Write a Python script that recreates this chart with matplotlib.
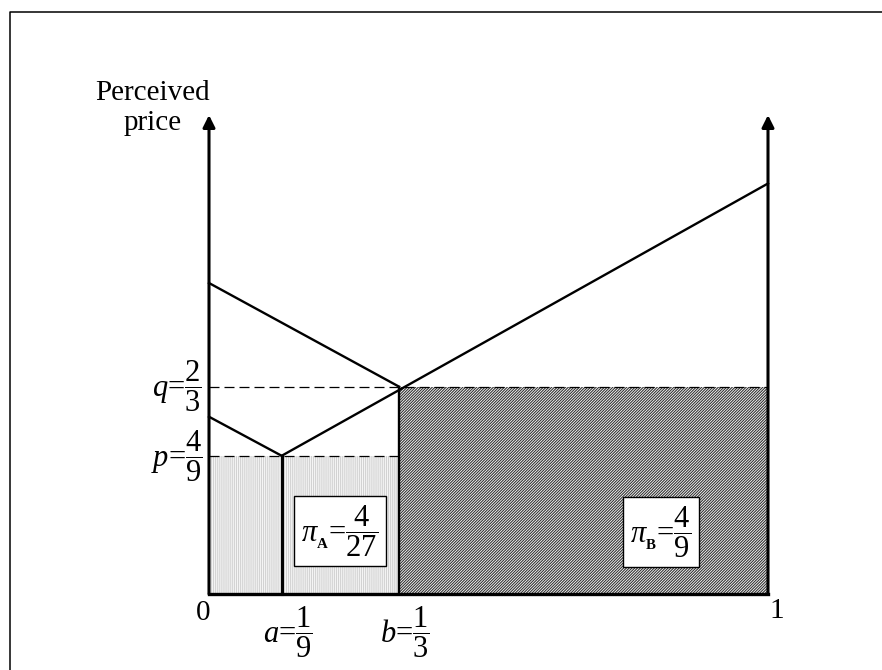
import matplotlib
matplotlib.use('Agg')
import matplotlib.pyplot as plt
from matplotlib.lines import Line2D
from matplotlib.patches import Rectangle

plt.rcParams['font.family'] = ['Liberation Serif', 'DejaVu Serif']
plt.rcParams['mathtext.fontset'] = 'custom'
plt.rcParams['mathtext.rm'] = 'Liberation Serif'
plt.rcParams['mathtext.it'] = 'Liberation Serif:italic'
plt.rcParams['mathtext.bf'] = 'Liberation Serif:bold'
plt.rcParams['hatch.linewidth'] = 0.8

# values
a_pos = 0.13          # kink of the lower curve (labelled a = 1/9)
b_pos = 0.34          # kink of the upper curve (labelled b = 1/3)
p_val = 4 / 9
q_val = 2 / 3
upper_left = 1.0      # upper curve at x = 0
lower_left = 0.57     # lower curve at x = 0
right_end = 1.32      # rising line at x = 1
axis_top = 1.54

x_labels = [(a_pos, r'$a$=$\dfrac{1}{9}$'), (b_pos, r'$b$=$\dfrac{1}{3}$')]
y_labels = [(q_val, r'$q$=$\dfrac{2}{3}$'), (p_val, r'$p$=$\dfrac{4}{9}$')]
profit_A = r'$\pi_{\mathbf{_A}}$=$\dfrac{4}{27}$'
profit_B = r'$\pi_{\mathbf{_B}}$=$\dfrac{4}{9}$'

W, H = 882, 670
fig = plt.figure(figsize=(W / 100, H / 100), dpi=100)
ax = fig.add_axes([0, 0, 1, 1])
ax.axis('off')

# pixel layout: x=0 at 209px, x=1 at 768px, y=0 at 594px, 311px per unit
x0, xs = 209, 559
y0, ys = 594, 311
ax.set_xlim(-x0 / xs, (W - x0) / xs)
ax.set_ylim(-(H - y0) / ys, y0 / ys)

def px(x, y):
    return (x - x0) / xs, (y0 - y) / ys

# shaded profit areas
ax.add_patch(Rectangle((0, 0), b_pos, p_val, facecolor='#f7f7f7',
                       edgecolor='#d2d2d2', hatch='|' * 8, lw=0, zorder=1))
ax.add_patch(Rectangle((b_pos, 0), 1 - b_pos, q_val, facecolor='white',
                       edgecolor='#333333', hatch='/' * 12, lw=0, zorder=1))

# dashed guides
ax.plot([0, 1], [q_val, q_val], color='k', lw=0.9, ls=(0, (8, 4)), zorder=2)
ax.plot([0, b_pos], [p_val, p_val], color='k', lw=0.9, ls=(0, (8, 4)), zorder=2)

# perceived price lines
ax.plot([0, b_pos], [upper_left, q_val], color='k', lw=1.7, zorder=3)
ax.plot([0, a_pos], [lower_left, p_val], color='k', lw=1.7, zorder=3)
ax.plot([a_pos, 1], [p_val, right_end], color='k', lw=1.7, zorder=3)

# verticals at a and b
ax.plot([a_pos, a_pos], [0, p_val], color='k', lw=2.2, zorder=3)
ax.plot([b_pos, b_pos], [0, q_val], color='k', lw=1.7, zorder=3)

# axes with arrows
ax.plot([0, 1], [0, 0], color='k', lw=2.4, zorder=4, solid_capstyle='projecting')
for xv in (0, 1):
    ax.annotate('', xy=(xv, axis_top), xytext=(xv, 0),
                arrowprops=dict(arrowstyle='-|>', color='k', lw=2.2,
                                mutation_scale=18, shrinkA=0, shrinkB=0),
                zorder=4)

fs = 21
ax.text(*px(153, 108), 'Perceived\nprice', ha='center', va='center',
        fontsize=fs, linespacing=1.2)
ax.text(*px(203, 613), '0', ha='center', va='center', fontsize=fs)
ax.text(*px(777, 611), '1', ha='center', va='center', fontsize=fs)

for yv, lab in y_labels:
    ax.text(-7 / xs, yv, lab, ha='right', va='center', fontsize=22)
for xv, lab in x_labels:
    ax.text(xv + 6 / xs, -38 / ys, lab, ha='center', va='center', fontsize=22)

box = dict(boxstyle='square,pad=0.25', facecolor='white', edgecolor='k', lw=1.0)
ax.text(*px(340, 531), profit_A, ha='center', va='center', fontsize=22,
        bbox=box, zorder=5)
ax.text(*px(661, 532), profit_B, ha='center', va='center', fontsize=22,
        bbox=box, zorder=5)

# outer frame (left and top edges)
fig.add_artist(Line2D([10 / W, 10 / W, 1], [0, 1 - 12 / H, 1 - 12 / H],
                      transform=fig.transFigure, color='k', lw=1.1))

fig.savefig('out.png', dpi=100)
